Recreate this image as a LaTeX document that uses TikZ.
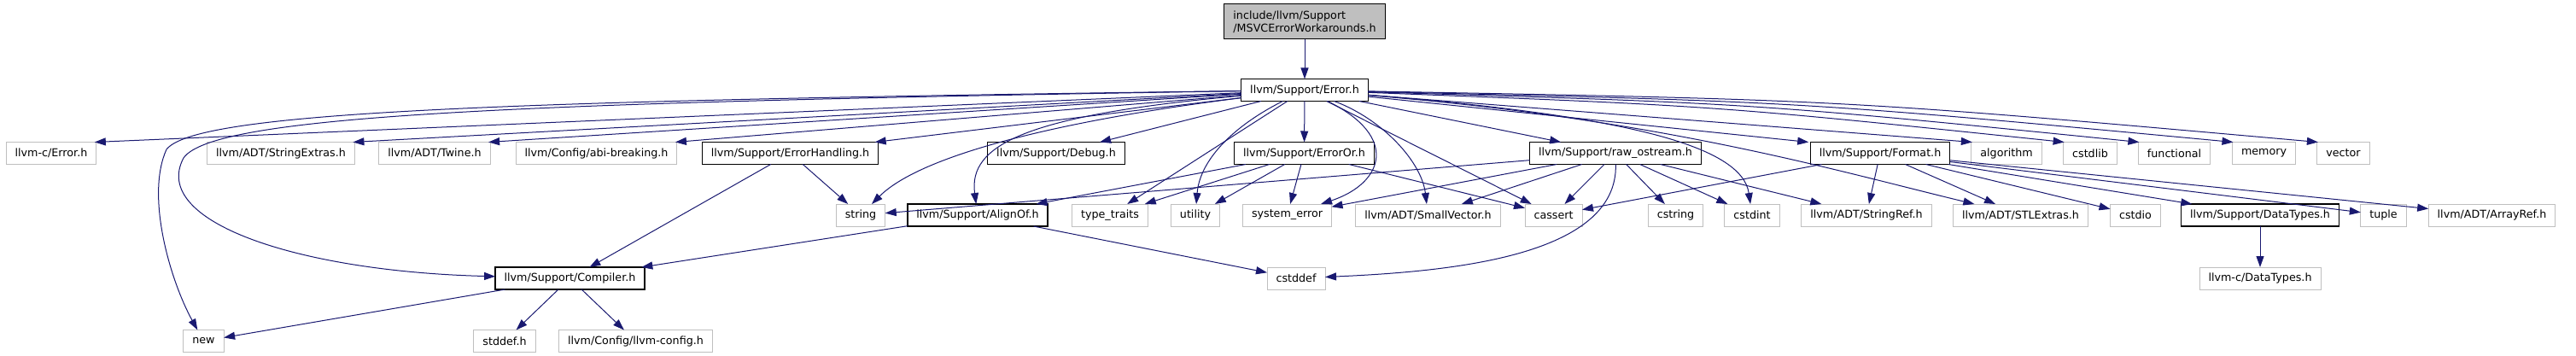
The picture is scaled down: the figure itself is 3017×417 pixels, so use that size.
\documentclass[tikz,border=0pt]{standalone}
\usepackage{fontspec}
\setmainfont{DejaVu Sans}
\usetikzlibrary{arrows.meta}
\definecolor{edgeblue}{HTML}{191970}
\definecolor{leafgray}{HTML}{BFBFBF}

\begin{document}
\begin{tikzpicture}[
  x=1pt,
  y=-1pt,
  font=\fontsize{12.7}{15}\selectfont,
  file box/.style={
    rectangle,
    minimum height=26pt,
    inner xsep=10.5pt,
    inner ysep=2pt,
    line width=1pt,
    fill=white,
    outer sep=0pt
  },
  system file/.style={
    file box,
    draw=leafgray
  },
  local file/.style={
    file box,
    draw=black,
    line width=1.3pt
  },
  root file/.style={
    file box,
    draw=black,
    fill=leafgray,
    align=left,
    minimum height=41pt
  },
  include arrow/.style={
    -{Triangle[length=13pt,width=9pt]},
    draw=edgeblue,
    line width=1pt
  }
]
\useasboundingbox (0,0) rectangle (3017,417);

\node[root file] (msvc) at (1528,25.5) {include/llvm/Support\\/MSVCErrorWorkarounds.h};
\node[local file] (error) at (1528,105.5) {llvm/Support/Error.h};

\node[system file] (c-error) at (60,179.5) {llvm-c/Error.h};
\node[system file] (string-extras) at (329,179.5) {llvm/ADT/StringExtras.h};
\node[system file] (twine) at (509,179.5) {llvm/ADT/Twine.h};
\node[system file] (abi-breaking) at (698.5,179.5) {llvm/Config/abi-breaking.h};
\node[local file] (error-handling) at (925.5,179.5) {llvm/Support/ErrorHandling.h};
\node[local file] (debug) at (1237,179.5) {llvm/Support/Debug.h};
\node[local file] (error-or) at (1527.5,179.5) {llvm/Support/ErrorOr.h};
\node[local file] (raw-ostream) at (1892,179.5) {llvm/Support/raw\_ostream.h};
\node[local file] (format) at (2202,179.5) {llvm/Support/Format.h};
\node[system file] (algorithm) at (2350,179.5) {algorithm};
\node[system file] (cstdlib) at (2448,179.5) {cstdlib};
\node[system file] (functional) at (2546.5,179.5) {functional};
\node[system file] (memory) at (2651.5,179.5) {memory};
\node[system file] (vector) at (2744.5,179.5) {vector};

\node[system file] (string) at (1008,252) {string};
\node[local file] (align-of) at (1145,252) {llvm/Support/AlignOf.h};
\node[system file] (type-traits) at (1300,252) {type\_traits};
\node[system file] (utility) at (1400,252) {utility};
\node[system file] (system-error) at (1507.5,252) {system\_error};
\node[system file] (small-vector) at (1672.5,252) {llvm/ADT/SmallVector.h};
\node[system file] (cassert) at (1819.5,252) {cassert};
\node[system file] (cstring) at (1962.5,252) {cstring};
\node[system file] (cstdint) at (2052,252) {cstdint};
\node[system file] (string-ref) at (2186,252) {llvm/ADT/StringRef.h};
\node[system file] (stl-extras) at (2366.5,252) {llvm/ADT/STLExtras.h};
\node[system file] (cstdio) at (2501,252) {cstdio};
\node[local file] (data-types) at (2647,252) {llvm/Support/DataTypes.h};
\node[system file] (tuple) at (2791.5,252) {tuple};
\node[system file] (array-ref) at (2918.5,252) {llvm/ADT/ArrayRef.h};

\node[local file] (compiler) at (667.5,326) {llvm/Support/Compiler.h};
\node[system file] (cstddef) at (1518,326) {cstddef};
\node[system file] (c-data-types) at (2647,326) {llvm-c/DataTypes.h};

\node[system file] (new) at (238.5,399.5) {new};
\node[system file] (stddef) at (591,399.5) {stddef.h};
\node[system file] (llvm-config) at (744.5,399.5) {llvm/Config/llvm-config.h};

\draw[include arrow] (msvc) -- (error);

\draw[include arrow] (error) -- ([xshift=-2pt]c-error.north east);
\draw[include arrow] (error) -- ([xshift=-2pt]string-extras.north east);
\draw[include arrow] (error) -- ([xshift=-2pt]twine.north east);
\draw[include arrow] (error) -- ([xshift=-2pt]abi-breaking.north east);
\draw[include arrow] (error) -- ([xshift=-4pt]error-handling.north east);
\draw[include arrow] (error) -- (debug);
\draw[include arrow] (error) -- (error-or);
\draw[include arrow] (error) -- (raw-ostream);
\draw[include arrow] (error) -- ([xshift=-2pt]format.north west);
\draw[include arrow] (error) -- ([xshift=1pt]algorithm.north west);
\draw[include arrow] (error) .. controls (2010,124) .. ([xshift=1pt]cstdlib.north west);
\draw[include arrow] (error) .. controls (2053,121) .. ([xshift=1pt]functional.north west);
\draw[include arrow] (error) .. controls (2108,119) .. ([xshift=1pt]memory.north west);
\draw[include arrow] (error) .. controls (2158,117) .. ([xshift=1pt]vector.north west);
\draw[include arrow] (error) -- (type-traits);
\draw[include arrow] (error) -- (cassert);
\draw[include arrow] (error) .. controls (600,118) and (230,130) .. (195,175)
  .. controls (170,230) and (200,330) .. (new);
\draw[include arrow] (error) .. controls (600,120) and (250,135) .. (215,185)
  .. controls (175,260) and (350,318) .. (compiler);
\draw[include arrow] (error) .. controls (1250,140) and (1080,180) .. (string);
\draw[include arrow] (error) .. controls (1200,135) and (1134,170) .. (align-of);
\draw[include arrow] (error) .. controls (1440,150) and (1405,190) .. (utility);
\draw[include arrow] (error) .. controls (1640,160) and (1620,215) .. (system-error);
\draw[include arrow] (error) .. controls (1620,140) and (1665,190) .. (small-vector);
\draw[include arrow] (error) .. controls (1900,135) and (2040,170) .. (cstdint);
\draw[include arrow] (error) .. controls (1950,140) and (2150,200) .. (stl-extras);

\draw[include arrow] (error-handling) -- (compiler);
\draw[include arrow] (error-handling) -- (string);

\draw[include arrow] (error-or) -- (align-of);
\draw[include arrow] (error-or) -- (type-traits);
\draw[include arrow] (error-or) -- (utility);
\draw[include arrow] (error-or) -- (system-error);
\draw[include arrow] (error-or) -- (cassert);

\draw[include arrow] (raw-ostream) -- (string);
\draw[include arrow] (raw-ostream) -- (system-error);
\draw[include arrow] (raw-ostream) -- (small-vector);
\draw[include arrow] (raw-ostream) -- (cassert);
\draw[include arrow] (raw-ostream) -- (cstring);
\draw[include arrow] (raw-ostream) -- (cstdint);
\draw[include arrow] (raw-ostream) -- (string-ref);
\draw[include arrow] (raw-ostream) .. controls (1895,300) and (1700,318) .. (cstddef);

\draw[include arrow] (format) -- (cassert);
\draw[include arrow] (format) -- (string-ref);
\draw[include arrow] (format) -- (stl-extras);
\draw[include arrow] (format) -- (cstdio);
\draw[include arrow] (format) -- (data-types);
\draw[include arrow] (format) -- (tuple);
\draw[include arrow] (format) -- (array-ref);

\draw[include arrow] (align-of) -- (compiler);
\draw[include arrow] (align-of) -- (cstddef);

\draw[include arrow] (compiler) -- (new);
\draw[include arrow] (compiler) -- (stddef);
\draw[include arrow] (compiler) -- (llvm-config);

\draw[include arrow] (data-types) -- (c-data-types);

\end{tikzpicture}
\end{document}
